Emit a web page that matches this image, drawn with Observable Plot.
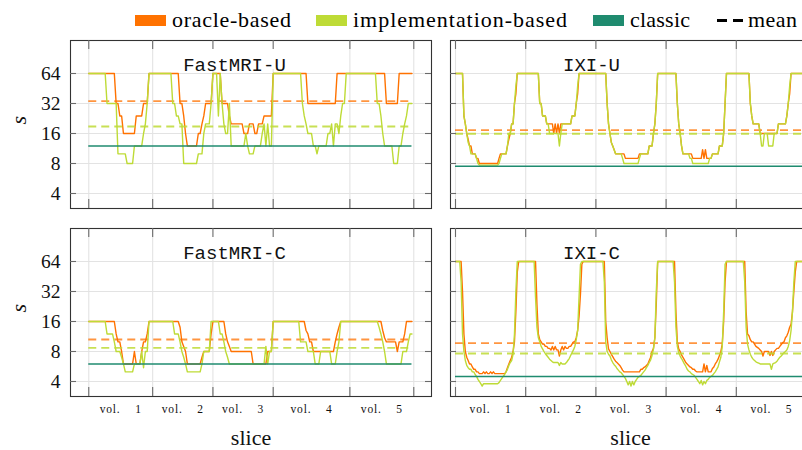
<!DOCTYPE html>
<html>
<head>
<meta charset="utf-8">
<script src="https://cdn.jsdelivr.net/npm/d3@7"></script>
<script src="https://cdn.jsdelivr.net/npm/@observablehq/plot@0.6"></script>
<style>
  html, body { margin: 0; padding: 0; background: #fff; }
  #chart { position: relative; width: 802px; height: 450px; overflow: hidden; background: #fff;
           font-family: 'Liberation Serif', serif; }
  .panel { position: absolute; }
  #chart text.serif { font-family: 'Liberation Serif', 'DejaVu Serif', serif; }
  #chart text.mono { font-family: 'Liberation Mono', 'DejaVu Sans Mono', monospace; }
</style>
</head>
<body>
<div id="chart"></div>
<script>
// ---------------- data ----------------
const seriesNames = ["oracle-based", "implementation-based", "classic", "mean"];
const volLabels = ["vol. 1", "vol. 2", "vol. 3", "vol. 4", "vol. 5"];
const yTicks = [4, 8, 16, 32, 64];

// slices per volume
const fastmriVolSizes = [35, 33, 33, 42, 35];
const ixiVolSizes = [50, 50, 50, 50, 50];

// each series: runs of [s, number of consecutive slices]
const fastmriUOracle = [[64,15],[32,2],[24,2],[16,7],[24,4],[32,3],[64,17],[32,2],[24,1],[16,1],[12,6],[16,2],[20,1],[24,1],[32,4],[64,5],[32,4],[24,1],[20,7],[16,3],[20,3],[16,2],[20,3],[24,5],[64,19],[32,16],[64,27],[32,7],[64,8]];
const fastmriUImpl = [[64,10],[32,6],[10,5],[8,4],[12,5],[16,1],[20,1],[32,1],
  [64,13],[32,2],[24,2],[20,2],[8,8],[10,3],[16,1],[20,3],[32,1],
  [64,3],[24,1],[64,1],[32,1],[20,1],[16,2],[32,1],[12,8],[16,1],[12,1],[10,3],[12,4],[16,1],[20,1],[12,1],[20,1],[12,2],
  [64,16],[32,1],[24,1],[20,1],[16,3],[12,2],[10,1],[12,5],[16,2],[20,1],[12,1],[20,2],[16,1],[24,1],[32,2],[64,2],
  [64,15],[32,2],[24,1],[16,1],[12,5],[8,3],[12,2],[16,1],[20,1],[24,1],[32,3]];
const fastmriUClassic = 12;
const fastmriUMeanOracle = 33.8;
const fastmriUMeanImpl = 18.8;

const fastmriCOracle = [[16,15],[12,1],[10,2],[8,1],[6,6],[8,1],[6,3],[8,1],[10,2],[12,1],[16,1],
  [16,16],[14,1],[10,1],[9,1],[8,1],[6,8],[7,1],[8,4],[12,1],
  [16,7],[12,1],[10,1],[9,1],[8,12],[6,8],[8,3],
  [16,18],[13,1],[12,1],[10,2],[8,12],[10,1],[12,1],[14,1],
  [16,23],[13,1],[11,1],[10,6],[8,1],[10,3],[12,1],[16,4]];
const fastmriCImpl = [[16,10],[12,4],[10,1],[8,3],[7,1],[6,1],[5,5],[6,4],[8,1],[5.5,1],[8,2],[16,1],
  [16,13],[12,3],[10,1],[8,1],[7,1],[6,1],[5,8],[6,1],[8,4],[16,1],
  [16,4],[12,2],[10,1],[8,1],[7,1],[6,20],[9,1],[6,1],[8,2],
  [16,15],[10,4],[8,4],[6,3],[8,6],[6,3],[8,1],[10,1],
  [16,21],[14,1],[12,1],[10,1],[8,1],[6,9],[8,3],[10,1],[12,2]];
const fastmriCClassic = 6;
const fastmriCMeanOracle = 10.56;
const fastmriCMeanImpl = 8.71;

const ixiUOracle = [[64,6],[24,1],[20,1],[16,1],[14,1],[12,2],[10,3],[9,2],[8,14],[9,1],[10,5],[12,1],[14,1],[16,1],[20,2],[32,1],[40,1],[64,6],
  [64,10],[32,2],[24,3],[20,5],[16,1],[20,1],[16,1],[20,1],[16,1],[20,8],[24,3],[32,1],[40,1],[64,12],
  [64,8],[32,1],[20,1],[16,1],[13,1],[12,1],[11,1],[10,7],[9,10],[10,7],[12,3],[16,1],[20,1],[32,1],[64,6],
  [64,8],[32,1],[20,1],[16,1],[12,1],[10,7],[9,7],[11,1],[9,1],[11,1],[9,4],[10,5],[12,3],[16,1],[32,1],[64,7],
  [64,10],[32,1],[24,1],[20,5],[16,13],[20,6],[24,1],[32,1],[40,1],[64,11]];
const ixiUImpl = [[64,6],[24,1],[20,1],[16,1],[13,1],[12,1],[10,4],[9,1],[8,1],[7.7,14],[8,1],[9,1],[10,4],[12,1],[16,2],[20,2],[32,1],[48,1],[64,6],
  [64,10],[32,2],[24,3],[20,2],[16,7],[12,1],[16,1],[20,7],[24,3],[32,1],[48,1],[64,12],
  [64,8],[32,1],[20,1],[16,1],[13,1],[12,1],[11,1],[10,5],[9,1],[8,11],[9,1],[10,6],[12,3],[16,1],[20,1],[32,1],[64,6],
  [64,8],[32,1],[20,1],[16,1],[12,1],[10,5],[9,2],[8,12],[9,2],[10,5],[12,3],[16,1],[32,1],[64,7],
  [64,10],[32,1],[24,1],[20,5],[16,1],[12,2],[16,3],[12,4],[16,3],[20,6],[24,1],[32,1],[48,1],[64,11]];
const ixiUClassic = 7.5;
const ixiUMeanOracle = 17.3;
const ixiUMeanImpl = 15.9;

const ixiCOracle = [[64,5],[32,1],[12,1],[8,1],[7,1],[6.5,1],[6,2],[5.6,1],[5.3,2],[5,2],[4.8,3],[5,1],[4.8,1],[5,1],[4.8,2],[5,1],[4.8,1],[5,1],[4.8,8],[5,1],[5.5,1],[6,1],[6.5,1],[7,1],[8,1],[10,1],[20,1],[50,1],[64,5],
  [64,8],[24,1],[12,1],[10.5,1],[10,1],[9.5,2],[9,2],[8.6,2],[8.3,1],[9,1],[8.3,1],[9,1],[8.3,2],[7.2,1],[8.3,1],[9,1],[8.3,1],[9,1],[8.6,2],[9,2],[9.5,1],[10,2],[11,1],[13,1],[18,1],[30,1],[60,1],[64,9],
  [64,7],[16,1],[11,1],[8.5,1],[8,1],[7.5,1],[7.1,1],[6.7,1],[6.4,1],[6.2,1],[6,1],[5.8,1],[5.5,1],[5.2,1],[5,12],[5.3,2],[5.5,1],[5.6,1],[5.8,1],[6,1],[6.5,1],[7,1],[8,1],[8.6,1],[11,1],[24,1],[64,6],
  [64,7],[20,1],[10,1],[8.5,1],[8,1],[7.4,1],[7,1],[6.6,1],[6.2,1],[6,1],[5.8,1],[5.6,1],[5.5,1],[5.3,2],[5.1,1],[5,5],[6,1],[5,1],[5.8,1],[5,3],[5.4,1],[5.6,1],[6,1],[6.3,1],[6.7,1],[7.3,1],[8,1],[9.5,1],[16,1],[40,1],[64,7],
  [64,7],[20,1],[12,1],[11.5,1],[10.5,1],[10,2],[9.5,1],[9,1],[8.8,1],[8.6,1],[8.3,1],[8,1],[7.2,1],[8,4],[7.3,1],[8,1],[7.3,1],[8,1],[8.3,1],[8.6,2],[9,1],[9.4,1],[9.8,1],[10,1],[11,1],[11.5,1],[12.5,1],[14,1],[15,1],[20,1],[32,1],[50,1],[64,7]];
const ixiCImpl = [[64,4],[40,1],[12,1],[8,1],[6.5,1],[5.8,1],[5.5,1],[5.3,2],[5,2],[4.7,1],[4.5,1],[4.2,1],[4,1],[3.8,1],[3.6,1],[3.8,11],[3.9,1],[4.1,1],[4.3,1],[4.5,1],[4.7,1],[5,1],[5.3,1],[5.8,1],[6.2,1],[6.5,1],[7.5,1],[12,1],[32,1],[64,6],
  [64,7],[28,1],[14,1],[11,1],[10,1],[9,1],[8.5,1],[8,1],[7.6,1],[7.3,1],[7,1],[6.7,1],[6.5,1],[6.3,1],[6.2,4],[5.8,1],[6.2,1],[6,3],[6.2,1],[6.5,1],[6.8,1],[7.3,1],[7.8,1],[8.3,1],[9,1],[10.5,1],[13,1],[28,1],[60,1],[64,10],
  [64,6],[40,1],[10,1],[8,1],[7.5,1],[7.2,1],[6.6,1],[6.2,1],[5.9,1],[5.7,1],[5.4,1],[5.2,1],[5,1],[4.9,1],[4.7,1],[4.5,1],[4.3,1],[4,1],[3.7,1],[4,1],[3.6,1],[4,1],[3.7,1],[4,1],[4.2,1],[4.4,1],[4.5,1],[4.6,1],[4.8,1],[5,1],[5.2,1],[5.5,1],[5.8,1],[6.2,1],[6.6,1],[7.3,1],[8.5,1],[11,1],[32,1],[64,6],
  [64,6],[40,1],[14,1],[9,1],[7.8,1],[7.2,1],[6.8,1],[6.4,1],[6,1],[5.7,1],[5.3,1],[5.1,1],[5,1],[4.8,1],[4.7,1],[4.6,1],[4.4,1],[4.2,1],[4,1],[3.8,1],[4.1,1],[3.7,1],[4,1],[3.8,1],[4.1,1],[4.2,1],[4.4,1],[4.5,1],[4.6,1],[4.8,1],[5,1],[5.3,1],[5.6,1],[6.3,1],[7,1],[9,1],[20,1],[60,1],[64,7],
  [64,6],[40,1],[14,1],[9.5,1],[8.3,1],[7.5,1],[7,1],[6.7,1],[6.5,1],[6.3,1],[6.2,1],[6.1,1],[6,8],[5.3,1],[6,1],[6.1,1],[6.2,1],[6.4,1],[6.7,1],[7,1],[7.2,1],[7.5,1],[7.8,1],[8,1],[8.3,1],[9,1],[10.3,1],[13,1],[20,1],[40,1],[64,8]];
const ixiCClassic = 4.5;
const ixiCMeanOracle = 9.7;
const ixiCMeanImpl = 7.64;

// ---------------- styling ----------------
const ORANGE = "#ff7200", LIME = "#bedb36", TEAL = "#1f8b6f";
const GRID = "#e3e3e3", FRAME = "#333", TICK = "#6a6a6a";

const COLS = { left: { x0: 0, w: 441, ml: 70, mr: 10 }, right: { x0: 440, w: 372, ml: 10, mr: 2 } };
const ROWS = { top: { y0: 30, h: 190, mt: 10, mb: 12 }, bottom: { y0: 218, h: 232, mt: 10, mb: 54 } };

function expand(runs) { const out = []; for (const [v, n] of runs) for (let i = 0; i < n; i++) out.push(v); return out; }
function cumBounds(sizes) { const b = [0]; for (const s of sizes) b.push(b[b.length - 1] + s); return b; }

const panels = [
  { title: "FastMRI-U", col: "left", row: "top", volSizes: fastmriVolSizes, oracle: fastmriUOracle, impl: fastmriUImpl,
    classic: fastmriUClassic, meanO: fastmriUMeanOracle, meanI: fastmriUMeanImpl, pad: [10.0, 9.7], titleCx: 164 },
  { title: "IXI-U", col: "right", row: "top", volSizes: ixiVolSizes, oracle: ixiUOracle, impl: ixiUImpl,
    classic: ixiUClassic, meanO: ixiUMeanOracle, meanI: ixiUMeanImpl, pad: [3.56, 2.85], titleCx: 141 },
  { title: "FastMRI-C", col: "left", row: "bottom", volSizes: fastmriVolSizes, oracle: fastmriCOracle, impl: fastmriCImpl,
    classic: fastmriCClassic, meanO: fastmriCMeanOracle, meanI: fastmriCMeanImpl, pad: [10.0, 9.7], titleCx: 164 },
  { title: "IXI-C", col: "right", row: "bottom", volSizes: ixiVolSizes, oracle: ixiCOracle, impl: ixiCImpl,
    classic: ixiCClassic, meanO: ixiCMeanOracle, meanI: ixiCMeanImpl, pad: [3.56, 2.85], titleCx: 141 }
];

const chart = document.getElementById("chart");

// ---------------- legend ----------------
(function legend() {
  const svg = d3.create("svg").attr("width", 802).attr("height", 40)
    .style("position", "absolute").style("left", "0px").style("top", "0px");
  const items = [
    { label: seriesNames[0], color: ORANGE, sx: 135, tx: 172, tw: 119 },
    { label: seriesNames[1], color: LIME, sx: 316, tx: 353, tw: 214 },
    { label: seriesNames[2], color: TEAL, sx: 593, tx: 630, tw: 60 },
  ];
  for (const it of items) {
    svg.append("rect").attr("x", it.sx).attr("y", 15).attr("width", 31).attr("height", 11).attr("fill", it.color);
    svg.append("text").attr("class", "serif").attr("x", it.tx).attr("y", 27).attr("font-size", 22)
      .attr("textLength", it.tw).attr("lengthAdjust", "spacing").text(it.label);
  }
  svg.append("rect").attr("x", 717).attr("y", 19).attr("width", 10).attr("height", 3).attr("fill", "#000");
  svg.append("rect").attr("x", 733).attr("y", 19).attr("width", 10).attr("height", 3).attr("fill", "#000");
  svg.append("text").attr("class", "serif").attr("x", 748).attr("y", 27).attr("font-size", 22)
    .attr("textLength", 49).attr("lengthAdjust", "spacing").text(seriesNames[3]);
  chart.appendChild(svg.node());
})();

// ---------------- panels ----------------
for (const p of panels) {
  const col = COLS[p.col], row = ROWS[p.row];
  const bounds = cumBounds(p.volSizes);
  const total = bounds[bounds.length - 1];
  const last = total - 1;
  const fw = col.w - col.ml - col.mr, fh = row.h - row.mt - row.mb;
  const pts = arr => expand(arr).map((s, i) => ({ slice: i, s }));
  const oracle = pts(p.oracle), impl = pts(p.impl);
  const mids = p.volSizes.map((n, i) => ({ x: (bounds[i] + bounds[i + 1]) / 2, label: volLabels[i] }));
  const boxW = p.title.length * 11.3 + 18;

  const titleBox = () => d3.create("svg:rect")
      .attr("x", col.ml + p.titleCx - boxW / 2).attr("y", row.mt + 1)
      .attr("width", boxW).attr("height", 28).attr("fill", "#fff").node();

  const marks = [
    Plot.ruleY(yTicks, { y: d => d, stroke: GRID, strokeWidth: 1.1 }),
    Plot.ruleX(bounds, { x: d => d, stroke: GRID, strokeWidth: 1.1 }),
    titleBox,
    Plot.text([p.title], { text: d => d, frameAnchor: "top-left", dx: p.titleCx, dy: 16.5, textAnchor: "middle",
      fontSize: 19, fill: "#111" }),
    Plot.line(oracle, { x: "slice", y: "s", stroke: ORANGE, strokeWidth: 1.4 }),
    Plot.ruleY([{ y: p.meanO, x1: 0, x2: last }], { y: "y", x1: "x1", x2: "x2", stroke: ORANGE, strokeOpacity: 0.75,
      strokeWidth: 1.8, strokeDasharray: "8,5" }),
    Plot.line(impl, { x: "slice", y: "s", stroke: LIME, strokeWidth: 1.4 }),
    Plot.ruleY([{ y: p.meanI, x1: 0, x2: last }], { y: "y", x1: "x1", x2: "x2", stroke: LIME, strokeOpacity: 0.85,
      strokeWidth: 1.8, strokeDasharray: "8,5" }),
    Plot.ruleY([{ y: p.classic, x1: 0, x2: last }], { y: "y", x1: "x1", x2: "x2", stroke: TEAL, strokeWidth: 1.5 }),
    Plot.frame({ stroke: FRAME, strokeWidth: 1.1 }),
    Plot.ruleX(bounds, { x: d => d, insetTop: fh - 9, stroke: TICK, strokeWidth: 1.1 }),
    Plot.ruleX(bounds, { x: d => d, insetBottom: fh - 9, stroke: TICK, strokeWidth: 1.1 }),
    Plot.ruleY(yTicks, { y: d => d, insetRight: fw - 6, stroke: TICK, strokeWidth: 1.1 }),
    Plot.ruleY(yTicks, { y: d => d, insetLeft: fw - 6, stroke: TICK, strokeWidth: 1.1 })
  ];
  if (p.col === "left") {
    marks.push(Plot.text(yTicks, { y: d => d, text: d => String(d), frameAnchor: "left", dx: -10, textAnchor: "end",
      fontSize: 19.5, fill: "#111" }));
    marks.push(Plot.text(["s"], { text: d => d, frameAnchor: "left", dx: -52, rotate: -90,
      fontStyle: "italic", fontSize: 22, fill: "#111" }));
  }
  if (p.row === "bottom") {
    marks.push(Plot.text(mids, { x: "x", text: "label", frameAnchor: "bottom", dy: 16.5, fontSize: 11.5, fill: "#111" }));
    marks.push(Plot.text(["slice"], { text: d => d, frameAnchor: "bottom", dy: 48, fontSize: 22, fill: "#111" }));
  }

  const svg = Plot.plot({
    width: col.w, height: row.h,
    marginLeft: col.ml, marginRight: col.mr, marginTop: row.mt, marginBottom: row.mb,
    x: { domain: [-p.pad[0], total + p.pad[1]], axis: null },
    y: { type: "log", base: 2, domain: [2 ** 1.5, 2 ** 7.1], axis: null },
    style: { background: "transparent", maxWidth: "none", overflow: "visible" },
    marks
  });
  const div = document.createElement("div");
  div.className = "panel";
  div.style.left = col.x0 + "px";
  div.style.top = row.y0 + "px";
  div.style.width = col.w + "px";
  div.style.height = row.h + "px";
  div.appendChild(svg);
  chart.appendChild(div);
  // fonts: typewriter titles, serif for everything else
  d3.select(svg).selectAll("text").each(function () {
    const t = this.textContent;
    const isTitle = panels.some(q => q.title === t);
    this.setAttribute("class", isTitle ? "mono" : "serif");
    if (t.startsWith("vol.")) { this.style.wordSpacing = "11px"; this.style.letterSpacing = "0.8px"; }
  });
}
</script>
</body>
</html>
